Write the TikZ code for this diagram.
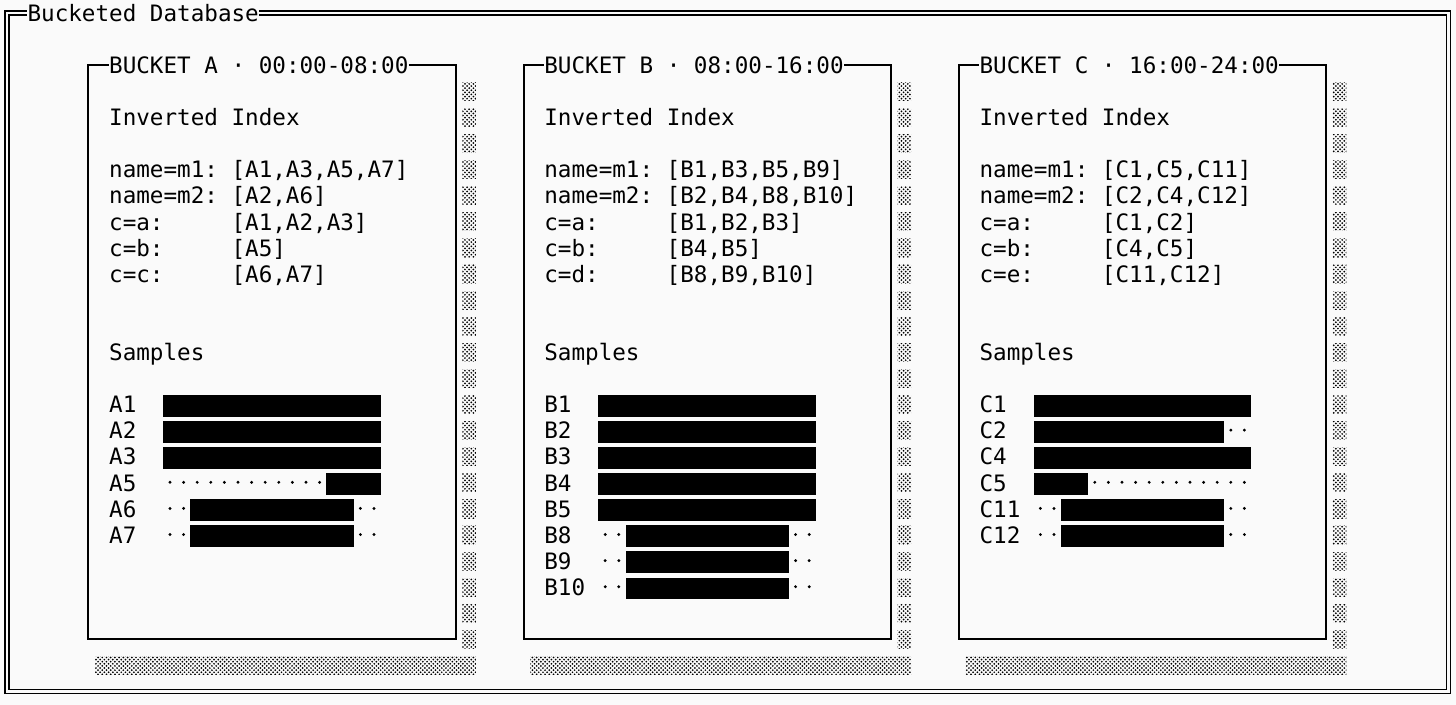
\documentclass[tikz,border=0pt]{standalone}
\usepackage{fontspec}
\setmonofont{DejaVu Sans Mono}
\usetikzlibrary{patterns}

\pgfdeclarepatternformonly{lightshade}{\pgfqpoint{-0.6pt}{-0.6pt}}{\pgfqpoint{3pt}{3pt}}{\pgfqpoint{2.4pt}{2.4pt}}{%
  \pgfpathcircle{\pgfqpoint{0.6pt}{0.6pt}}{0.55pt}%
  \pgfpathcircle{\pgfqpoint{1.8pt}{1.8pt}}{0.55pt}%
  \pgfusepath{fill}}

\begin{document}
\begin{tikzpicture}[x=0.272cm, y=-0.522cm,
    txt/.style={anchor=west, inner sep=0pt, text height=9.37pt, text depth=0pt,
      font=\ttfamily\fontsize{12.86pt}{15pt}\selectfont},
    boxline/.style={line width=0.04cm},
    dbline/.style={line width=0.03cm, double=black!2, double distance=0.05cm},
    shade/.style={pattern=lightshade, pattern color=black}]
  \def\W{107.06}
  \def\H{27.01}
  \fill[black!2] (0,0) rectangle (\W,\H);
  \useasboundingbox (0,0) rectangle (\W,\H);

  \node[txt] (db) at (2,0.5) {Bucketed Database};
  \draw[dbline] (db.east) -| (106.5,26.5) -| (0.5,0.5) -- (db.west);

  \foreach \b/\off/\t in {A/0/00:00-08:00, B/32/08:00-16:00, C/64/16:00-24:00} {
    \node[txt] (bkt\b) at (8+\off,2.5) {BUCKET \b{} · \t};
    \draw[boxline] (bkt\b.east) -| (33.5+\off,24.5) -| (6.5+\off,2.5) -- (bkt\b.west);
    \foreach \r in {3,...,24}
      \fill[shade] (34+\off,\r+0.15) rectangle (35+\off,\r+0.85);
    \fill[shade] (7+\off,25.15) rectangle (35+\off,25.85);
    \node[txt] (inv\b) at (8+\off,4.5) {Inverted Index};
    \node[txt] (smp\b) at (8+\off,13.5) {Samples};
  }

  \foreach \k/\v [count=\i from 6] in {name=m1:/{[A1,A3,A5,A7]}, name=m2:/{[A2,A6]},
      c=a:/{[A1,A2,A3]}, c=b:/{[A5]}, c=c:/{[A6,A7]}} {
    \node[txt] (keyA\i) at (8,\i+0.5) {\k};
    \node[txt] (valA\i) at (17,\i+0.5) {\v};
  }
  \foreach \k/\v [count=\i from 6] in {name=m1:/{[B1,B3,B5,B9]}, name=m2:/{[B2,B4,B8,B10]},
      c=a:/{[B1,B2,B3]}, c=b:/{[B4,B5]}, c=d:/{[B8,B9,B10]}} {
    \node[txt] (keyB\i) at (40,\i+0.5) {\k};
    \node[txt] (valB\i) at (49,\i+0.5) {\v};
  }
  \foreach \k/\v [count=\i from 6] in {name=m1:/{[C1,C5,C11]}, name=m2:/{[C2,C4,C12]},
      c=a:/{[C1,C2]}, c=b:/{[C4,C5]}, c=e:/{[C11,C12]}} {
    \node[txt] (keyC\i) at (72,\i+0.5) {\k};
    \node[txt] (valC\i) at (81,\i+0.5) {\v};
  }

  \foreach \lab/\s/\e [count=\i from 15] in {A1/0/15, A2/0/15, A3/0/15, A5/12/15, A6/2/13, A7/2/13} {
    \node[txt] (labA\i) at (8,\i+0.5) {\lab};
    \foreach \k in {0,...,15}
      \fill (12.5+\k,\i+0.48) circle (0.032cm);
    \fill (12+\s,\i+0.13) rectangle (13+\e,\i+0.96);
  }
  \foreach \lab/\s/\e [count=\i from 15] in {B1/0/15, B2/0/15, B3/0/15, B4/0/15, B5/0/15,
      B8/2/13, B9/2/13, B10/2/13} {
    \node[txt] (labB\i) at (40,\i+0.5) {\lab};
    \foreach \k in {0,...,15}
      \fill (44.5+\k,\i+0.48) circle (0.032cm);
    \fill (44+\s,\i+0.13) rectangle (45+\e,\i+0.96);
  }
  \foreach \lab/\s/\e [count=\i from 15] in {C1/0/15, C2/0/13, C4/0/15, C5/0/3, C11/2/13, C12/2/13} {
    \node[txt] (labC\i) at (72,\i+0.5) {\lab};
    \foreach \k in {0,...,15}
      \fill (76.5+\k,\i+0.48) circle (0.032cm);
    \fill (76+\s,\i+0.13) rectangle (77+\e,\i+0.96);
  }
\end{tikzpicture}
\end{document}
